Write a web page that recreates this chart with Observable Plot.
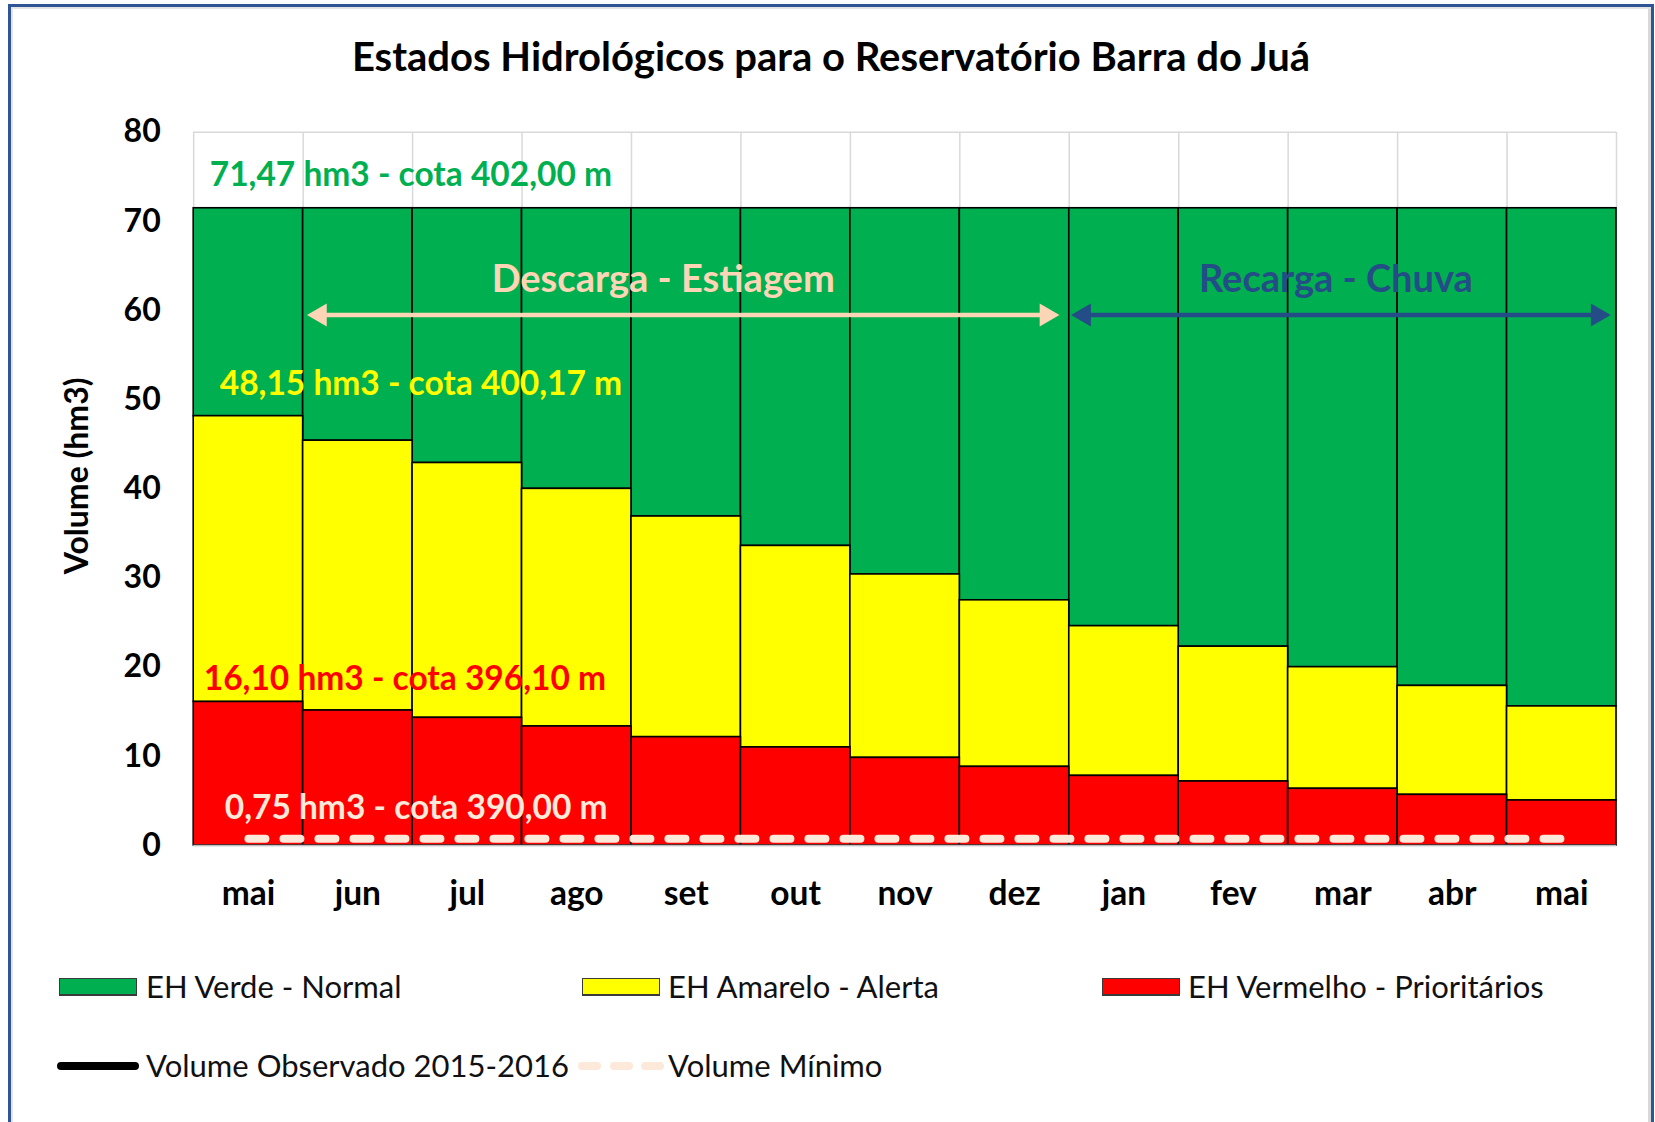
<!DOCTYPE html>
<html>
<head>
<meta charset="utf-8">
<script src="https://cdn.jsdelivr.net/npm/d3@7"></script>
<script src="https://cdn.jsdelivr.net/npm/@observablehq/plot@0.6"></script>
<style>
  body { margin: 0; background: #fff; }
  #page { position: relative; width: 1655px; height: 1122px; overflow: hidden; font-family: Lato, "Open Sans", sans-serif; background: #fff; }
  #frame { position: absolute; left: 8px; top: 4px; width: 1646px; height: 1140px; border: 3px solid #2f5597; box-sizing: border-box; box-shadow: inset 2px 2px 0 #e4e4e4, inset -3px 0 0 #d9d9d9; }
  #title { position: absolute; top: 31.5px; left: 8px; width: 1646px; text-align: center; font-size: 40px; font-weight: bold; color: #000; line-height: normal; white-space: nowrap; }
  #chart { position: absolute; left: 0; top: 100px; }
  .legtext { position: absolute; font-size: 31px; color: #111; line-height: normal; white-space: nowrap; }
  .swatch { position: absolute; width: 78px; height: 18px; box-sizing: border-box; border: 1.5px solid #3a3a3a; border-bottom-width: 2.5px; }
  .blackline { position: absolute; height: 8px; border-radius: 4px; background: #000; }
  .pill { position: absolute; height: 8px; border-radius: 4px; background: #fde9d9; }
</style>
</head>
<body>
<div id="page">
  <div id="frame"></div>
  <div id="title">Estados Hidrológicos para o Reservatório Barra do Juá</div>
  <div id="chart"></div>
  <div id="legend"></div>
</div>
<script>
// ---- data ----
const months = ["mai", "jun", "jul", "ago", "set", "out", "nov", "dez", "jan", "fev", "mar", "abr", "mai"];
const greenTop = 71.47;   // volume limit of EH Verde (cota 402,00 m)
const yellowTop = [48.15, 45.4, 42.9, 40.0, 36.9, 33.6, 30.4, 27.5, 24.6, 22.3, 20.0, 17.9, 15.6];
const redTop = [16.10, 15.14, 14.32, 13.35, 12.15, 11.0, 9.83, 8.82, 7.81, 7.18, 6.36, 5.68, 5.05];
const minVolume = 0.75;
const yTicks = [0, 10, 20, 30, 40, 50, 60, 70, 80];
const yLabel = "Volume (hm3)";

const labelVolumes = [71.47, 48.15, 16.10, 0.75];
const labelCotas = [402.00, 400.17, 396.10, 390.00];

const periodNames = ["Descarga - Estiagem", "Recarga - Chuva"];
const periodStart = [1, 8];   // index of first month (jun, jan)
const periodEnd = [8, 13];    // index after last month
const arrowLevel = 59.5;

const seriesNames = ["EH Verde - Normal", "EH Amarelo - Alerta", "EH Vermelho - Prioritários"];
const lineNames = ["Volume Observado 2015-2016", "Volume Mínimo"];

// ---- styles ----
const GREEN = "#00b050", YELLOW = "#ffff00", RED = "#ff0000";
const PEACH = "#fbd5b5", NAVY = "#244c86", MINC = "#fde9d9";
const labelColors = [GREEN, YELLOW, RED, MINC];
const labelOffsets = [[16, -32.7], [26, -32.3], [10, -22.8], [31, -30.6]];
const periodColors = [PEACH, NAVY];
const periodTextDx = [-23, -7];
const arrowInsets = [[4, 10], [2, 6]];

const fmt = v => v.toFixed(2).replace(".", ",");
const rows = months.map((m, i) => ({i, month: m, red: redTop[i], yellow: yellowTop[i], green: greenTop, min: minVolume}));
const labels = labelVolumes.map((v, k) => ({value: v, text: `${fmt(v)} hm3 - cota ${fmt(labelCotas[k])} m`}));
const periods = periodNames.map((n, k) => ({name: n, start: periodStart[k], end: periodEnd[k], mid: (periodStart[k] + periodEnd[k]) / 2}));

const marks = [
  Plot.gridX(d3.range(0, 14), {stroke: "#d9d9d9", strokeOpacity: 1, strokeWidth: 1.5}),
  Plot.gridY(yTicks, {stroke: "#d9d9d9", strokeOpacity: 1, strokeWidth: 1.5}),
  Plot.rectY(rows, {x1: "i", x2: d => d.i + 1, y1: "yellow", y2: "green", fill: GREEN, stroke: "#000", strokeWidth: 1.6}),
  Plot.rectY(rows, {x1: "i", x2: d => d.i + 1, y1: "red", y2: "yellow", fill: YELLOW, stroke: "#000", strokeWidth: 1.6}),
  Plot.rectY(rows, {x1: "i", x2: d => d.i + 1, y1: 0, y2: "red", fill: RED, stroke: "#000", strokeWidth: 1.6}),
  Plot.ruleY([0], {stroke: "#bfbfbf", strokeWidth: 1.5}),
  Plot.line(rows, {x: d => d.i + 0.5, y: "min", stroke: MINC, strokeWidth: 8, strokeDasharray: "17 18", strokeLinecap: "round"})
];

labels.forEach((d, k) => {
  marks.push(Plot.text([d], {x: 0, y: "value", text: "text", textAnchor: "start", dx: labelOffsets[k][0], dy: labelOffsets[k][1], fill: labelColors[k], fontSize: 33.5, fontWeight: "bold"}));
});

periods.forEach((p, k) => {
  const [l, r] = arrowInsets[k];
  marks.push(Plot.ruleY([p], {x1: "start", x2: "end", y: () => arrowLevel, stroke: periodColors[k], strokeWidth: 4.5, insetLeft: l + 12, insetRight: r + 12}));
  // filled arrowheads
  marks.push(Plot.dot([p], {x: "start", y: () => arrowLevel, symbol: "triangle", r: 8.5, rotate: -90, fill: periodColors[k], stroke: "none", dx: l + 13}));
  marks.push(Plot.dot([p], {x: "end", y: () => arrowLevel, symbol: "triangle", r: 8.5, rotate: 90, fill: periodColors[k], stroke: "none", dx: -(r + 13)}));
  marks.push(Plot.text([p], {x: "mid", y: () => arrowLevel, text: "name", dx: periodTextDx[k], dy: -35.1, fill: periodColors[k], fontSize: 38, fontWeight: "bold"}));
});

marks.push(
  Plot.axisY(yTicks, {tickSize: 0, tickPadding: 33, fontSize: 32, fontWeight: "bold", fill: "#000", label: null}),
  Plot.axisX(d3.range(13).map(i => i + 0.5), {tickSize: 0, tickPadding: 36.2, fontSize: 33.5, fontWeight: "bold", fill: "#000",
    tickFormat: d => months[Math.floor(d)], label: null}),
  Plot.text([yLabel], {frameAnchor: "left", text: d => d, rotate: -90, textAnchor: "middle", lineAnchor: "middle", dx: -115.5, dy: -13, fontSize: 32, fontWeight: "bold", fill: "#000"})
);

const chart = Plot.plot({
  width: 1655, height: 840,
  marginTop: 31.7, marginBottom: 95, marginLeft: 193.2, marginRight: 39,
  x: {domain: [0, 13]},
  y: {domain: [0, 80]},
  style: {fontFamily: "Lato, 'Open Sans', sans-serif", background: "transparent", color: "#000"},
  marks
});
document.getElementById("chart").appendChild(chart);

// ---- legend ----
const legend = document.getElementById("legend");
const swatchColors = [GREEN, YELLOW, RED];
const swatchLeft = [59, 582, 1102];
const textLeft1 = [146, 668, 1188];
seriesNames.forEach((n, k) => {
  const s = document.createElement("div");
  s.className = "swatch";
  s.style.left = swatchLeft[k] + "px"; s.style.top = "978px"; s.style.background = swatchColors[k];
  legend.appendChild(s);
  const t = document.createElement("div");
  t.className = "legtext"; t.textContent = n;
  t.style.left = textLeft1[k] + "px"; t.style.top = "967px";
  legend.appendChild(t);
});
const bl = document.createElement("div");
bl.className = "blackline"; bl.style.left = "57px"; bl.style.width = "82px"; bl.style.top = "1062px";
legend.appendChild(bl);
[578, 610, 641].forEach(x => {
  const p = document.createElement("div");
  p.className = "pill"; p.style.left = x + "px"; p.style.width = "23px"; p.style.top = "1062px";
  legend.appendChild(p);
});
const textLeft2 = [146, 668];
lineNames.forEach((n, k) => {
  const t = document.createElement("div");
  t.className = "legtext"; t.textContent = n;
  t.style.left = textLeft2[k] + "px"; t.style.top = "1046px";
  legend.appendChild(t);
});
</script>
</body>
</html>
